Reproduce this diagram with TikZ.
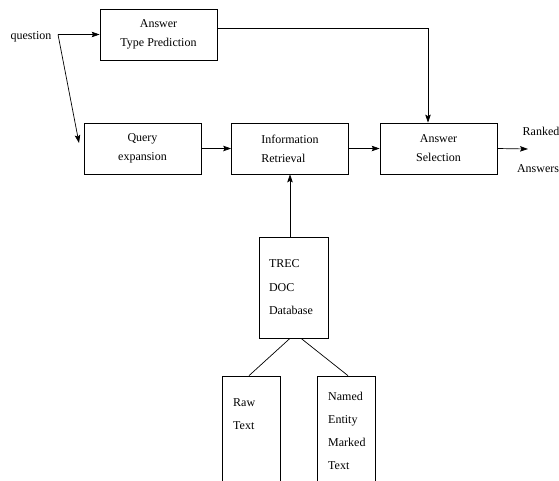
\documentclass[tikz,border=0pt]{standalone}
\usepackage{fontspec}
\setmainfont{Liberation Serif}
\usetikzlibrary{arrows.meta,positioning}

\tikzset{
  stage/.style={draw, line width=0.7pt, minimum width=117pt, minimum height=51pt,
    align=center, font=\fontsize{12}{19}\selectfont},
  dbbox/.style={draw, line width=0.7pt, minimum width=69pt, minimum height=101pt,
    text width=49pt, inner xsep=10pt, align=left, font=\fontsize{12}{23.5}\selectfont},
  docbox/.style={draw, line width=0.7pt, minimum width=58pt, minimum height=130pt},
  doctext/.style={anchor=north west, inner sep=0pt, align=left,
    font=\fontsize{12}{23}\selectfont},
  plain/.style={inner sep=0pt, font=\fontsize{12}{14}\selectfont},
  flow/.style={line width=0.7pt, -{Stealth[length=8pt,width=5.5pt,inset=1.5pt]}},
  link/.style={line width=0.7pt}
}

\begin{document}
\begin{tikzpicture}[x=1pt,y=-1pt]
  \clip (0,0) rectangle (559,480);

  % pipeline
  \node[plain] (question) at (31,37) {question};
  \coordinate (split) at (58,34.5);
  \coordinate (qin) at (79,143);

  \node[stage] (atp) at (158.5,34.5) {Answer\\Type Prediction};
  \node[stage] (query) at (142.5,148.5) {Query\\expansion};
  \node[stage, align=left] (ir) at (290,148.5) {Information\\Retrieval};
  \node[stage] (as) at (438.5,148.5) {Answer\\Selection};

  \coordinate (out) at (528,149);
  \node[plain] (ranked) at (541,131) {Ranked};
  \node[plain] (answers) at (538,169) {Answers};

  \draw[flow] (split) -- (atp.west);
  \draw[flow] (split) -- (qin);
  \draw[flow] (query) -- (ir);
  \draw[flow] (ir) -- (as);
  \draw[flow] (as.east) -- (out);
  \draw[flow] ([yshift=6.5pt]atp.east) -| ([xshift=-10.5pt]as.north);

  % document store
  \node[dbbox] (trec) at (293.5,287.5) {TREC\\DOC\\Database};
  \node[docbox] (raw) at (251,441) {};
  \node[docbox] (named) at (346,441) {};
  \node[doctext] (rawtext) at (233,398) {Raw\\Text};
  \node[doctext] (namedtext) at (328,392) {Named\\Entity\\Marked\\Text};

  \draw[flow] (ir.south |- trec.north) -- (ir.south);
  \draw[link] ([xshift=-3.5pt]trec.south) -- ([xshift=-2pt]raw.north);
  \draw[link] ([xshift=7.5pt]trec.south) -- ([xshift=2pt]named.north);
\end{tikzpicture}
\end{document}
